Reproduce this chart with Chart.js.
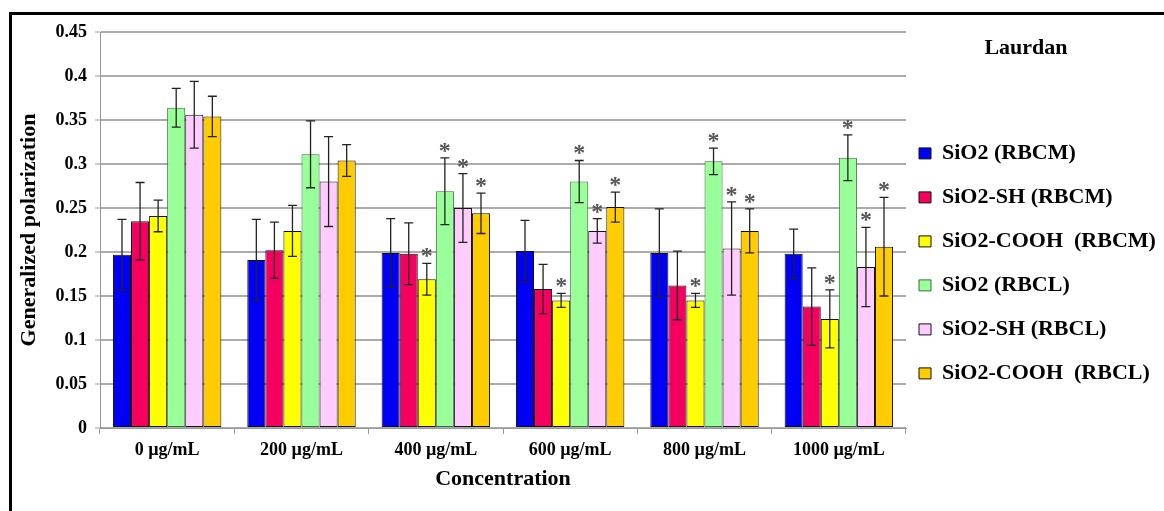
<!DOCTYPE html>
<html>
<head>
<meta charset="utf-8">
<script src="https://cdn.jsdelivr.net/npm/chart.js"></script>
<style>
  body { margin: 0; background: #fff; overflow: hidden; }
  #wrap { position: relative; width: 1164px; height: 511px; }
  #grafico { position: absolute; left: 0; top: 0; }
  /* marco negro del recuadro original */
  #marco { position: absolute; left: 9px; top: 12px; width: 2000px; height: 2000px;
           border-left: 3px solid #000; border-top: 3px solid #000; pointer-events: none; }
</style>
</head>
<body>
<div id="wrap">
  <canvas id="grafico" width="1164" height="511"></canvas>
  <div id="marco"></div>
</div>
<script>
// datos
const concentraciones = ['0 µg/mL', '200 µg/mL', '400 µg/mL', '600 µg/mL', '800 µg/mL', '1000 µg/mL'];

const sio2RBCM = [0.197, 0.191, 0.199, 0.201, 0.199, 0.198];
const sio2RBCMErr = [0.040, 0.046, 0.039, 0.035, 0.050, 0.028];
const sio2shRBCM = [0.235, 0.202, 0.198, 0.158, 0.162, 0.138];
const sio2shRBCMErr = [0.044, 0.032, 0.035, 0.028, 0.039, 0.044];
const sio2coohRBCM = [0.241, 0.224, 0.169, 0.145, 0.145, 0.124];
const sio2coohRBCMErr = [0.018, 0.029, 0.018, 0.008, 0.008, 0.033];
const sio2RBCL = [0.364, 0.311, 0.269, 0.280, 0.303, 0.307];
const sio2RBCLErr = [0.022, 0.038, 0.038, 0.024, 0.015, 0.026];
const sio2shRBCL = [0.356, 0.280, 0.250, 0.224, 0.204, 0.183];
const sio2shRBCLErr = [0.038, 0.051, 0.039, 0.014, 0.053, 0.045];
const sio2coohRBCL = [0.354, 0.304, 0.244, 0.251, 0.224, 0.206];
const sio2coohRBCLErr = [0.023, 0.018, 0.023, 0.017, 0.025, 0.056];

// asteriscos de significancia (1 = lleva *)
const sinAsterisco = [0, 0, 0, 0, 0, 0];
const conAsterisco = [0, 0, 1, 1, 1, 1];

const ticksY = [0, 0.05, 0.1, 0.15, 0.2, 0.25, 0.3, 0.35, 0.4, 0.45];

const fuente = '"Liberation Serif", "Times New Roman", serif';
Chart.defaults.font.family = fuente;
Chart.defaults.font.weight = 'bold';
Chart.defaults.color = '#000';

// barras de error y asteriscos
const barrasError = {
    id: 'barrasError',
    afterDatasetsDraw(chart) {
        const ctx = chart.ctx;
        const y = chart.scales.y;
        chart.data.datasets.forEach((ds, i) => {
            const meta = chart.getDatasetMeta(i);
            meta.data.forEach((bar, j) => {
                const v = ds.data[j], e = ds.errores[j];
                const arriba = y.getPixelForValue(v + e);
                const abajo = y.getPixelForValue(v - e);
                ctx.save();
                ctx.strokeStyle = '#222';
                ctx.lineWidth = 1.3;
                ctx.beginPath();
                ctx.moveTo(bar.x, arriba); ctx.lineTo(bar.x, abajo);
                ctx.moveTo(bar.x - 4.5, arriba); ctx.lineTo(bar.x + 4.5, arriba);
                ctx.moveTo(bar.x - 4.5, abajo); ctx.lineTo(bar.x + 4.5, abajo);
                ctx.stroke();
                if (ds.asteriscos[j]) {
                    ctx.fillStyle = '#555';
                    ctx.font = 'bold 24px ' + fuente;
                    ctx.textAlign = 'center';
                    ctx.textBaseline = 'alphabetic';
                    ctx.fillText('*', bar.x, arriba);
                }
                ctx.restore();
            });
        });
    }
};

// ajuste de ancho y posicion de la leyenda
const ajusteLeyenda = {
    id: 'ajusteLeyenda',
    afterInit(chart) {
        const lg = chart.legend;
        const fitOriginal = lg.fit;
        lg.fit = function () { fitOriginal.call(this); this.width = 258; };
    },
    afterLayout(chart) {
        chart.legend.left -= 9;
        chart.legend.right -= 9;
    }
};

const serie = (label, data, errores, asteriscos, color, borde) => ({
    label: label,
    data: data,
    errores: errores,
    asteriscos: asteriscos,
    backgroundColor: color,
    borderColor: borde || '#111',
    borderWidth: 1,
    borderSkipped: false,
    categoryPercentage: 0.807,
    barPercentage: 1.0
});

const ctx = document.querySelector('#grafico').getContext('2d');
new Chart(ctx, {
    type: 'bar',
    data: {
        labels: concentraciones,
        datasets: [
            serie('SiO2 (RBCM)', sio2RBCM, sio2RBCMErr, sinAsterisco, '#0000f5'),
            serie('SiO2-SH (RBCM)', sio2shRBCM, sio2shRBCMErr, sinAsterisco, '#f5005f'),
            serie('SiO2-COOH  (RBCM)', sio2coohRBCM, sio2coohRBCMErr, conAsterisco, '#ffff00'),
            serie('SiO2 (RBCL)', sio2RBCL, sio2RBCLErr, conAsterisco, '#99ff99', '#3d6b3d'),
            serie('SiO2-SH (RBCL)', sio2shRBCL, sio2shRBCLErr, conAsterisco, '#ffccff'),
            serie('SiO2-COOH  (RBCL)', sio2coohRBCL, sio2coohRBCLErr, conAsterisco, '#ffcc00')
        ]
    },
    options: {
        responsive: false,
        animation: false,
        layout: { padding: { top: 32, left: 14, right: 0, bottom: 0 } },
        plugins: {
            tooltip: { enabled: false },
            legend: {
                position: 'right',
                align: 'start',
                title: {
                    display: true,
                    text: 'Laurdan',
                    font: { family: fuente, size: 22, weight: 'bold' },
                    padding: { top: 5, bottom: 57 }
                },
                labels: {
                    font: { family: fuente, size: 22, weight: 'bold' },
                    boxWidth: 12,
                    boxHeight: 11,
                    padding: 22,
                    color: '#000'
                }
            }
        },
        scales: {
            x: {
                afterFit: (s) => { s.height = 83; },
                grid: { drawOnChartArea: false, drawTicks: true, tickLength: 6, color: '#999', offset: true },
                border: { color: '#999', width: 1 },
                ticks: { font: { size: 18, weight: 'bold' }, padding: 6, color: '#000' },
                title: {
                    display: true,
                    text: 'Concentration',
                    font: { size: 22, weight: 'bold' },
                    padding: { top: 0, bottom: 18 },
                    color: '#000'
                }
            },
            y: {
                min: 0,
                max: 0.45,
                afterFit: (s) => { s.width = 86; },
                afterBuildTicks: (s) => { s.ticks = ticksY.map(v => ({ value: v })); },
                grid: { color: '#ababab', lineWidth: 2, tickLength: 5, tickColor: '#999', tickWidth: 1 },
                border: { color: '#999', width: 1 },
                ticks: {
                    font: { size: 18, weight: 'bold' },
                    padding: 8,
                    color: '#000',
                    callback: (v) => String(+v.toFixed(2))
                },
                title: {
                    display: true,
                    text: 'Generalized polarization',
                    font: { size: 22, weight: 'bold' },
                    padding: { top: 2, bottom: 0 },
                    color: '#000'
                }
            }
        }
    },
    plugins: [barrasError, ajusteLeyenda]
});
</script>
</body>
</html>
